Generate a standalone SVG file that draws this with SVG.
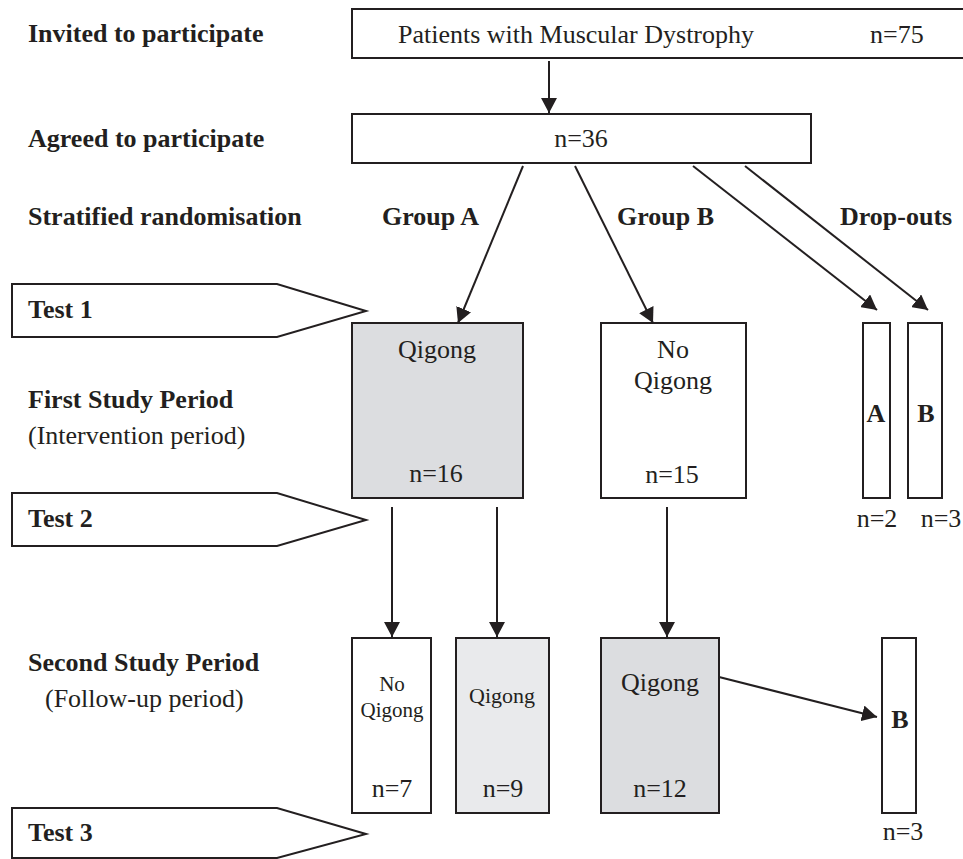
<svg xmlns="http://www.w3.org/2000/svg" width="963" height="859" viewBox="0 0 963 859">
<style>
  text { font-family: "Liberation Serif", "Times New Roman", serif; fill: #231f20; }
  .b { font-weight: bold; font-size: 26px; }
  .r { font-size: 26px; }
  .s { font-size: 21px; }
  .s2 { font-size: 22px; }
  .c { text-anchor: middle; }
  .box { stroke: #231f20; stroke-width: 2; fill: #ffffff; }
  .g1 { fill: #dcdde0; }
  .g2 { fill: #e9eaec; }
  .tag { stroke: #231f20; stroke-width: 2; fill: #ffffff; stroke-linejoin: miter; }
  .conn line { stroke: #231f20; stroke-width: 2; marker-end: url(#ah); }
</style>
<defs>
  <marker id="ah" markerWidth="16" markerHeight="16" refX="15" refY="8" orient="auto" markerUnits="userSpaceOnUse" viewBox="0 0 16 16">
    <path d="M0,0 L15,8 L0,16 z" fill="#231f20"/>
  </marker>
</defs>
<rect width="963" height="859" fill="#ffffff"/>

<!-- Row labels -->
<g id="labels">
  <text class="b" x="28" y="42">Invited to participate</text>
  <text class="b" x="28" y="147">Agreed to participate</text>
  <text class="b" x="28" y="225">Stratified randomisation</text>
  <text class="b" x="28" y="408">First Study Period</text>
  <text class="r" x="28" y="444">(Intervention period)</text>
  <text class="b" x="28" y="671">Second Study Period</text>
  <text class="r" x="45" y="707">(Follow-up period)</text>
  <text class="b" x="382" y="225">Group A</text>
  <text class="b" x="617" y="225">Group B</text>
  <text class="b" x="840" y="225">Drop-outs</text>
</g>

<!-- Test tags -->
<g id="test1">
  <polygon class="tag" points="12,284 277,284 366,311 277,337 12,337"/>
  <text class="b" x="28" y="318">Test 1</text>
</g>
<g id="test2">
  <polygon class="tag" points="12,493 277,493 366,520 277,546 12,546"/>
  <text class="b" x="28" y="527">Test 2</text>
</g>
<g id="test3">
  <polygon class="tag" points="12,808 277,808 366,834 277,858 12,858"/>
  <text class="b" x="28" y="841">Test 3</text>
</g>

<!-- Nodes -->
<g id="invited">
  <rect class="box" x="352" y="9" width="620" height="49"/>
  <text class="r" x="398" y="43">Patients with Muscular Dystrophy</text>
  <text class="r" x="870" y="43">n=75</text>
</g>
<g id="agreed">
  <rect class="box" x="352" y="114" width="459" height="49"/>
  <text class="r c" x="581" y="147">n=36</text>
</g>
<g id="groupA1">
  <rect class="box g1" x="352" y="323" width="171" height="175"/>
  <text class="r c" x="437" y="358">Qigong</text>
  <text class="r c" x="436" y="482">n=16</text>
</g>
<g id="groupB1">
  <rect class="box" x="601" y="323" width="145" height="175"/>
  <text class="r c" x="673" y="358">No</text>
  <text class="r c" x="673" y="389">Qigong</text>
  <text class="r c" x="672" y="483">n=15</text>
</g>
<g id="dropA1">
  <rect class="box" x="863" y="323" width="27" height="175"/>
  <text class="b c" x="876" y="422">A</text>
  <text class="r c" x="877" y="527">n=2</text>
</g>
<g id="dropB1">
  <rect class="box" x="908" y="323" width="34" height="175"/>
  <text class="b c" x="926" y="422">B</text>
  <text class="r c" x="941" y="527">n=3</text>
</g>
<g id="noQigong2">
  <rect class="box" x="352" y="638" width="79" height="175"/>
  <text class="s c" x="392" y="691">No</text>
  <text class="s c" x="392" y="717">Qigong</text>
  <text class="r c" x="392" y="797">n=7</text>
</g>
<g id="qigongA2">
  <rect class="box g2" x="456" y="638" width="93" height="175"/>
  <text class="s2 c" x="502" y="703">Qigong</text>
  <text class="r c" x="503" y="797">n=9</text>
</g>
<g id="qigongB2">
  <rect class="box g1" x="601" y="638" width="118" height="175"/>
  <text class="r c" x="660" y="691">Qigong</text>
  <text class="r c" x="660" y="797">n=12</text>
</g>
<g id="dropB2">
  <rect class="box" x="882" y="638" width="34" height="175"/>
  <text class="b c" x="900" y="728">B</text>
  <text class="r c" x="903" y="840">n=3</text>
</g>

<!-- Connectors -->
<g id="connectors" class="conn">
  <line x1="549" y1="61" x2="549" y2="113"/>
  <line x1="523" y1="166" x2="458" y2="323"/>
  <line x1="575" y1="166" x2="653" y2="323"/>
  <line x1="693" y1="166" x2="877" y2="310"/>
  <line x1="745" y1="166" x2="928" y2="310"/>
  <line x1="392" y1="507" x2="392" y2="637"/>
  <line x1="497" y1="507" x2="497" y2="637"/>
  <line x1="667" y1="507" x2="667" y2="637"/>
  <line x1="719" y1="677" x2="877" y2="717"/>
</g>
</svg>
